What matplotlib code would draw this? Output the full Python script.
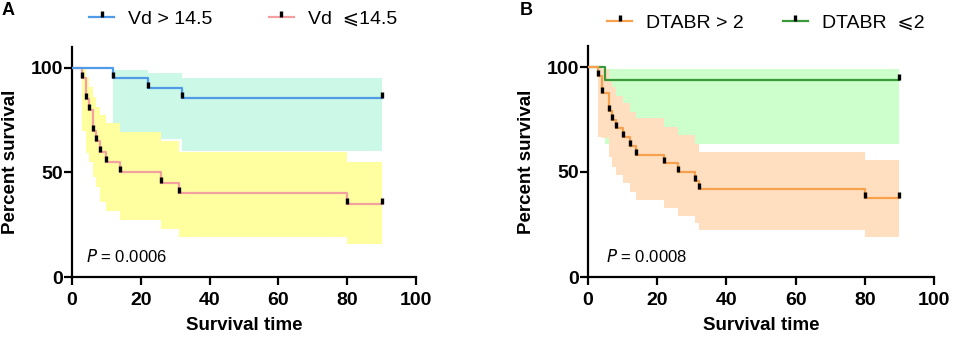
import matplotlib
matplotlib.use("Agg")
import matplotlib.pyplot as plt
from matplotlib.path import Path
from matplotlib.lines import Line2D

plt.rcParams['font.family'] = ['Liberation Sans', 'DejaVu Sans']

# ---------------- Data: panel A ----------------
a_hi_label = "Vd > 14.5"
a_hi_time = [0, 12, 22, 32, 90]
a_hi_surv = [100, 95.2, 90.5, 85.7, 85.7]
a_hi_censor_time = [12, 22, 32, 90]
a_hi_censor_surv = [95.2, 90.5, 85.7, 85.7]
a_hi_ci_time = [12, 22, 32, 90]
a_hi_ci_upper = [99.2, 97.6, 95.0, 95.0]
a_hi_ci_lower = [69.5, 66.0, 60.5, 60.5]

a_lo_label = "Vd  \u2a7d14.5"
a_lo_time = [0, 3, 4, 5, 6, 7, 8, 10, 14, 26, 31, 80, 90]
a_lo_surv = [100, 95, 85, 80, 70, 65, 60, 55, 50, 45, 40, 35, 35]
a_lo_censor_time = [3, 4, 5, 6, 7, 8, 10, 14, 26, 31, 80, 90]
a_lo_censor_surv = [95, 85, 80, 70, 65, 60, 55, 50, 45, 40, 35, 35]
a_lo_ci_time = [3, 4, 5, 6, 7, 8, 10, 14, 26, 31, 80, 90]
a_lo_ci_upper = [100, 95.5, 91, 86, 81.5, 77.5, 73.5, 69.5, 65, 60, 55, 55]
a_lo_ci_lower = [70, 59.2, 55.2, 48, 43, 36, 31.7, 27.3, 23, 19.3, 15.6, 15.6]
a_pvalue = "0.0006"

# ---------------- Data: panel B ----------------
b_hi_label = "DTABR > 2"
b_hi_time = [0, 3, 4, 6, 7, 8, 10, 12, 14, 22, 26, 31, 32, 80, 90]
b_hi_surv = [100, 95.8, 87.5, 79.2, 75, 70.8, 66.7, 62.5, 58.3, 54.2, 50, 45.8, 41.7, 37.5, 37.5]
b_hi_censor_time = [3, 4, 6, 7, 8, 10, 12, 14, 22, 26, 31, 32, 80, 90]
b_hi_censor_surv = [95.8, 87.5, 79.2, 75, 70.8, 66.7, 62.5, 58.3, 54.2, 50, 45.8, 41.7, 37.5, 37.5]
b_hi_ci_time = [3, 4, 6, 7, 8, 10, 12, 14, 22, 26, 31, 32, 80, 90]
b_hi_ci_upper = [100, 99, 93, 90.5, 86, 82.7, 78.7, 75.5, 71.3, 67.5, 63.5, 59.7, 55.6, 55.6]
b_hi_ci_lower = [66.5, 66, 57.3, 52.5, 48.6, 44.6, 40.6, 36.5, 33, 29.2, 25.5, 22.3, 19, 19]

b_lo_label = "DTABR  \u2a7d2"
b_lo_time = [0, 5, 90]
b_lo_surv = [100, 93.75, 93.75]
b_lo_censor_time = [90]
b_lo_censor_surv = [93.75]
b_lo_ci_time = [5, 90]
b_lo_ci_upper = [99, 99]
b_lo_ci_lower = [63.5, 63.5]
b_pvalue = "0.0008"

x_ticks = [0, 20, 40, 60, 80, 100]
y_ticks = [0, 50, 100]

# colours
blue, cyan = "#4f9be8", "#ccf8e8"
pink, yellow = "#f4a0a0", "#ffff9f"
orange, peach = "#f7a04e", "#ffdfc0"
green, lightgreen = "#3a9a3a", "#ccffcc"

tick_marker = Path([(0, 0), (0, 1)], [Path.MOVETO, Path.LINETO])

W, H = 957, 342
fig = plt.figure(figsize=(W / 100, H / 100), dpi=100)


def fx(px):
    return px / W


def fy(py):
    return 1 - py / H


def km_panel(ax, bands, lines, pval, pval_x):
    for t, lo, up, col in bands:
        ax.fill_between(t, lo, up, step='post', color=col, linewidth=0, zorder=1)
    for t, s, ct, cs, col in lines:
        ax.step(t, s, where='post', color=col, lw=1.6, zorder=3)
        ax.plot(ct, cs, linestyle='none', marker=tick_marker, ms=9,
                mec='black', mew=2.4, zorder=4)
    ax.set_xlim(0, 100)
    ax.set_ylim(0, 110)
    ax.set_xticks(x_ticks)
    ax.set_yticks(y_ticks)
    for sp in ['top', 'right']:
        ax.spines[sp].set_visible(False)
    for sp in ['left', 'bottom']:
        ax.spines[sp].set_linewidth(1.6)
    ax.tick_params(direction='out', length=5.5, width=1.6, labelsize=14)
    ax.tick_params(axis='x', pad=5)
    ax.tick_params(axis='y', pad=1)
    for lbl in ax.get_xticklabels() + ax.get_yticklabels():
        lbl.set_fontweight('bold')
    ax.set_xlabel("Survival time", fontsize=13.5, fontweight='bold', labelpad=6)
    ax.set_ylabel("Percent survival", fontsize=13.5, fontweight='bold', labelpad=8)
    ax.text(pval_x, 10, r"$\it{P}$" + " = " + pval, fontsize=12, va='center', ha='left')


def legend_handles(entries):
    hs = []
    for col, lab in entries:
        hs.append(Line2D([0], [0], color=col, lw=1.6, marker=tick_marker, ms=9,
                         mec='black', mew=2.4, label=lab))
    return hs


# Panel A
axA = fig.add_axes([fx(72), fy(277), fx(416) - fx(72), fy(47) - fy(277)])
km_panel(axA,
         [(a_hi_ci_time, a_hi_ci_lower, a_hi_ci_upper, cyan),
          (a_lo_ci_time, a_lo_ci_lower, a_lo_ci_upper, yellow)],
         [(a_lo_time, a_lo_surv, a_lo_censor_time, a_lo_censor_surv, pink),
          (a_hi_time, a_hi_surv, a_hi_censor_time, a_hi_censor_surv, blue)],
         a_pvalue, 4.1)
fig.legend(handles=legend_handles([(blue, a_hi_label), (pink, a_lo_label)]),
           loc='center left', bbox_to_anchor=(fx(89), fy(19)), ncol=2,
           frameon=False, fontsize=14, handlelength=1.29, handletextpad=0.72,
           columnspacing=2.9, borderpad=0, borderaxespad=0, numpoints=1)

# Panel B
axB = fig.add_axes([fx(588), fy(277), fx(934) - fx(588), fy(46) - fy(277)])
km_panel(axB,
         [(b_lo_ci_time, b_lo_ci_lower, b_lo_ci_upper, lightgreen),
          (b_hi_ci_time, b_hi_ci_lower, b_hi_ci_upper, peach)],
         [(b_lo_time, b_lo_surv, b_lo_censor_time, b_lo_censor_surv, green),
          (b_hi_time, b_hi_surv, b_hi_censor_time, b_hi_censor_surv, orange)],
         b_pvalue, 5.2)
fig.legend(handles=legend_handles([(orange, b_hi_label), (green, b_lo_label)]),
           loc='center left', bbox_to_anchor=(fx(607), fy(23)), ncol=2,
           frameon=False, fontsize=14, handlelength=1.29, handletextpad=0.72,
           columnspacing=2.0, borderpad=0, borderaxespad=0, numpoints=1)

fig.text(fx(2), fy(2), "A", fontsize=13, fontweight='bold', va='top', ha='left')
fig.text(fx(520), fy(2), "B", fontsize=13, fontweight='bold', va='top', ha='left')

fig.savefig("out.png", dpi=100)
